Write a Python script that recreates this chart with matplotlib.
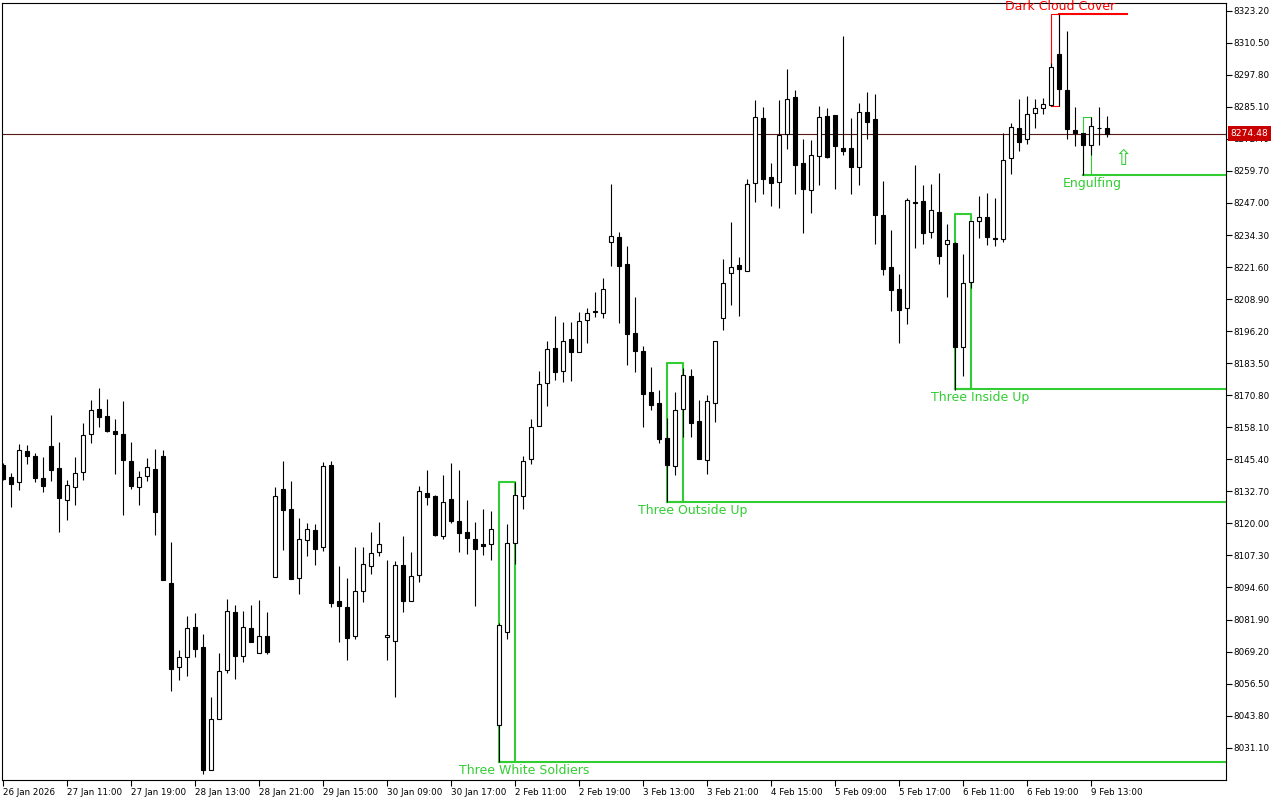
import matplotlib
matplotlib.use('Agg')
import matplotlib.pyplot as plt
from matplotlib.patches import Rectangle

# hourly bars
opens = [8143.1, 8138.4, 8136.3, 8148.7, 8146.7, 8137.9, 8150.7, 8142.0, 8129.1, 8134.6,
         8140.2, 8155.3, 8165.3, 8162.6, 8156.6, 8155.4, 8144.7, 8134.6, 8138.7, 8141.6,
         8146.7, 8096.4, 8063.0, 8066.9, 8078.8, 8071.0, 8022.1, 8042.4, 8062.0, 8084.9,
         8067.3, 8078.5, 8068.5, 8075.2, 8098.6, 8133.5, 8125.6, 8098.2, 8113.3, 8117.3,
         8110.5, 8143.1, 8089.2, 8086.9, 8075.2, 8093.1, 8103.3, 8108.5, 8074.8, 8073.5,
         8103.4, 8089.4, 8099.4, 8131.9, 8130.8, 8115.1, 8129.7, 8121.0, 8116.6, 8113.8,
         8111.7, 8111.7, 8040.0, 8076.8, 8112.1, 8130.7, 8145.4, 8158.5, 8175.5, 8189.4,
         8180.3, 8192.9, 8187.8, 8200.5, 8204.0, 8203.3, 8231.4, 8233.4, 8222.7, 8195.3,
         8188.2, 8172.1, 8167.6, 8153.9, 8142.6, 8165.2, 8178.3, 8160.4, 8145.0, 8167.6,
         8201.3, 8219.1, 8222.3, 8219.9, 8254.8, 8280.5, 8257.3, 8255.2, 8274.2, 8288.9,
         8262.7, 8252.3, 8265.5, 8281.3, 8281.7, 8268.7, 8268.8, 8261.4, 8282.9, 8280.1,
         8242.1, 8221.5, 8212.8, 8205.5, 8247.3, 8247.6, 8235.4, 8243.4, 8230.6, 8231.1,
         8190.0, 8215.5, 8239.7, 8241.3, 8233.0, 8232.9, 8264.7, 8276.6, 8272.2, 8282.5,
         8284.5, 8286.0, 8305.9, 8291.8, 8275.8, 8274.6, 8270.1, 8276.7, 8276.7]
highs = [8143.8, 8139.8, 8151.5, 8150.9, 8147.8, 8146.3, 8163.0, 8152.3, 8137.2, 8146.3,
         8159.8, 8168.9, 8173.7, 8169.3, 8161.4, 8168.5, 8152.3, 8140.8, 8145.8, 8149.5,
         8149.1, 8112.6, 8069.8, 8083.3, 8084.5, 8076.2, 8051.2, 8068.6, 8090.0, 8087.7,
         8085.3, 8087.7, 8089.6, 8084.9, 8134.3, 8144.7, 8136.7, 8122.0, 8120.0, 8119.6,
         8144.2, 8144.7, 8103.1, 8098.4, 8110.6, 8110.6, 8116.6, 8120.6, 8105.5, 8105.0,
         8115.0, 8108.7, 8134.8, 8141.2, 8131.2, 8139.2, 8143.9, 8141.2, 8129.3, 8120.6,
         8125.7, 8124.9, 8080.4, 8119.8, 8136.4, 8146.6, 8161.2, 8180.4, 8192.3, 8202.2,
         8199.8, 8199.8, 8203.6, 8205.2, 8211.6, 8217.1, 8254.5, 8235.5, 8229.9, 8209.7,
         8190.3, 8182.0, 8172.9, 8161.9, 8172.2, 8181.6, 8181.1, 8168.9, 8170.9, 8192.2,
         8224.8, 8239.5, 8225.5, 8256.4, 8287.8, 8285.0, 8262.8, 8287.8, 8300.1, 8291.8,
         8272.4, 8272.0, 8285.4, 8284.5, 8281.7, 8313.2, 8280.7, 8286.6, 8291.0, 8290.2,
         8255.7, 8236.2, 8218.7, 8248.8, 8262.0, 8254.0, 8254.5, 8258.7, 8238.7, 8231.6,
         8226.9, 8239.7, 8249.8, 8251.0, 8249.0, 8274.6, 8278.7, 8288.2, 8289.3, 8288.2,
         8288.6, 8302.3, 8321.9, 8315.0, 8284.9, 8274.6, 8280.9, 8285.0, 8281.5]
lows = [8137.2, 8126.6, 8133.4, 8143.7, 8136.5, 8132.6, 8136.9, 8116.7, 8121.5, 8127.4,
        8137.3, 8152.0, 8158.3, 8156.2, 8139.7, 8123.5, 8133.8, 8127.4, 8136.9, 8115.5,
        8097.7, 8053.7, 8058.1, 8059.7, 8066.9, 8020.8, 8022.1, 8042.4, 8060.8, 8058.5,
        8065.2, 8072.9, 8068.5, 8068.4, 8098.6, 8109.6, 8098.1, 8092.2, 8107.1, 8103.5,
        8109.2, 8087.0, 8073.0, 8065.9, 8074.3, 8088.9, 8100.0, 8107.1, 8065.9, 8051.3,
        8085.0, 8089.4, 8096.9, 8127.3, 8115.0, 8113.8, 8120.3, 8108.8, 8108.0, 8087.4,
        8107.6, 8105.6, 8025.6, 8074.3, 8103.9, 8125.8, 8143.7, 8158.5, 8166.7, 8176.8,
        8176.0, 8176.6, 8187.8, 8191.6, 8201.9, 8201.3, 8222.1, 8199.6, 8182.9, 8180.1,
        8158.1, 8165.1, 8152.0, 8128.5, 8139.0, 8154.4, 8154.4, 8145.4, 8139.4, 8160.3,
        8196.8, 8206.7, 8202.3, 8219.9, 8247.5, 8250.7, 8245.9, 8245.1, 8268.5, 8250.7,
        8235.0, 8243.2, 8254.1, 8264.9, 8252.7, 8266.0, 8250.7, 8254.1, 8272.5, 8230.9,
        8218.5, 8204.3, 8191.4, 8198.9, 8229.3, 8230.9, 8233.2, 8222.9, 8209.9, 8172.9,
        8178.6, 8213.2, 8233.2, 8230.5, 8230.1, 8231.7, 8258.4, 8267.7, 8270.5, 8276.8,
        8282.4, 8285.3, 8285.3, 8272.2, 8269.7, 8258.1, 8265.9, 8270.1, 8273.0]
closes = [8137.7, 8135.7, 8149.0, 8146.8, 8138.1, 8135.0, 8141.3, 8129.9, 8135.1, 8139.8,
          8154.9, 8164.8, 8162.3, 8156.5, 8155.6, 8145.3, 8135.0, 8138.3, 8142.2, 8124.6,
          8097.7, 8062.4, 8066.9, 8078.4, 8070.4, 8022.1, 8042.4, 8061.4, 8085.2, 8067.6,
          8078.8, 8073.1, 8075.2, 8069.2, 8130.7, 8125.4, 8098.1, 8113.7, 8117.7, 8110.0,
          8142.8, 8088.5, 8087.4, 8074.7, 8093.1, 8103.8, 8108.1, 8111.7, 8075.6, 8103.4,
          8089.4, 8099.1, 8132.7, 8130.6, 8115.4, 8128.3, 8121.1, 8116.3, 8114.3, 8110.0,
          8111.2, 8117.8, 8079.6, 8112.1, 8131.1, 8144.6, 8158.1, 8175.1, 8189.0, 8180.1,
          8192.2, 8188.1, 8200.1, 8203.2, 8203.6, 8212.8, 8233.8, 8222.1, 8194.9, 8188.5,
          8171.4, 8167.1, 8153.6, 8143.3, 8164.9, 8178.7, 8159.9, 8145.4, 8168.4, 8192.2,
          8215.1, 8221.5, 8220.7, 8254.4, 8280.9, 8256.6, 8255.0, 8273.8, 8288.1, 8262.2,
          8252.7, 8265.9, 8280.9, 8265.2, 8269.7, 8267.7, 8261.4, 8282.9, 8279.2, 8242.4,
          8221.0, 8212.4, 8204.7, 8248.0, 8246.9, 8235.2, 8244.1, 8226.1, 8232.2, 8190.0,
          8215.1, 8239.7, 8241.3, 8233.6, 8232.6, 8263.9, 8277.0, 8271.3, 8282.1, 8284.5,
          8286.4, 8300.8, 8292.3, 8276.5, 8274.6, 8270.1, 8277.4, 8276.6, 8274.48]

last_price = 8274.48

time_labels = ['26 Jan 2026', '27 Jan 11:00', '27 Jan 19:00', '28 Jan 13:00', '28 Jan 21:00',
               '29 Jan 15:00', '30 Jan 09:00', '30 Jan 17:00', '2 Feb 11:00', '2 Feb 19:00',
               '3 Feb 13:00', '3 Feb 21:00', '4 Feb 15:00', '5 Feb 09:00', '5 Feb 17:00',
               '6 Feb 11:00', '6 Feb 19:00', '9 Feb 13:00']
time_idx = [8 * k for k in range(len(time_labels))]

price_ticks = [8031.10, 8043.80, 8056.50, 8069.20, 8081.90, 8094.60, 8107.30, 8120.00,
               8132.70, 8145.40, 8158.10, 8170.80, 8183.50, 8196.20, 8208.90, 8221.60,
               8234.30, 8247.00, 8259.70, 8272.40, 8285.10, 8297.80, 8310.50, 8323.20]

# candlestick patterns found by the indicator
pat_names = ['Three White Soldiers', 'Three Outside Up', 'Three Inside Up',
             'Dark Cloud Cover', 'Engulfing']
pat_first = [62, 83, 119, 131, 135]
pat_last = [64, 85, 121, 132, 136]
pat_top = [8136.4, 8183.4, 8242.5, 8321.9, 8280.9]
pat_bottom = [8025.4, 8128.5, 8173.4, 8285.3, 8258.1]
pat_bull = [True, True, True, False, True]
label_x = [65.2, 86.2, 122.2, 132.2, 136.2]
label_y = [8021.9, 8125.3, 8170.1, 8324.7, 8254.9]

green = '#32cd32'
red = '#ff0000'

fig = plt.figure(figsize=(12.8, 8), dpi=100)
ax = fig.add_axes([0.0016, 0.025, 0.9563, 0.9712])
x_right = 152.9

for k in range(len(pat_names)):
    a = pat_first[k]
    b = pat_last[k]
    top = pat_top[k]
    bot = pat_bottom[k]
    col = green if pat_bull[k] else red
    box_lw = 1.5 if b - a == 2 else 0.8
    ax.plot([a, a, b, b, a], [bot, top, top, bot, bot], color=col, lw=box_lw, zorder=1)
    if pat_bull[k]:
        ax.plot([a, x_right], [bot, bot], color=col, lw=1.5, zorder=1)
    else:
        ax.plot([b, 140.5], [top, top], color=col, lw=1.5, zorder=1)
    ax.text(label_x[k], label_y[k], pat_names[k], color=col, fontsize=9,
            ha='center', va='center', zorder=6)

# hollow arrow under the engulfing signal
ax.text(140, 8264.5, '\u21e7', color=green, fontsize=15, ha='center', va='center', zorder=6)

ax.axhline(last_price, color='#5a1a1a', lw=0.8, zorder=2)

for i in range(len(opens)):
    o, h, l, c = opens[i], highs[i], lows[i], closes[i]
    ax.vlines(i, l, h, color='black', lw=0.8, zorder=3)
    face = 'white' if c > o else 'black'
    ax.add_patch(Rectangle((i - 0.28, min(o, c)), 0.56, abs(c - o), facecolor=face,
                           edgecolor='black', lw=0.8, zorder=4))

ax.set_xlim(-0.09, x_right)
ax.set_ylim(8018.3, 8326.25)

ax.set_xticks(time_idx)
ax.set_xticklabels(time_labels)
for lab in ax.get_xticklabels():
    lab.set_horizontalalignment('left')

ax.yaxis.tick_right()
ax.set_yticks(price_ticks)
ax.set_yticklabels(['%.2f' % p for p in price_ticks])
ax.tick_params(axis='both', direction='out', length=4, width=0.8, labelsize=6.3, pad=1.5)

for sp in ax.spines.values():
    sp.set_color('black')
    sp.set_linewidth(0.8)

ax.annotate('%.2f' % last_price, xy=(1.0, last_price), xycoords=('axes fraction', 'data'),
            xytext=(3, 0), textcoords='offset points', ha='left', va='center',
            color='white', fontsize=6.6, zorder=7, annotation_clip=False,
            bbox=dict(boxstyle='square,pad=0.3', facecolor='#c80000', edgecolor='none'))

fig.savefig('out.png', dpi=100, facecolor='white')
